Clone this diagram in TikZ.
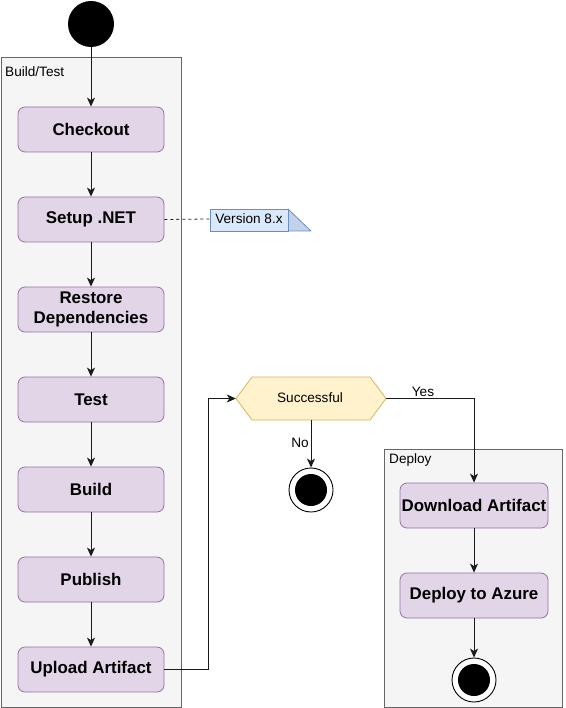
\documentclass[tikz,border=0pt]{standalone}
\usepackage{fontspec}
\setmainfont{Liberation Sans}
\usetikzlibrary{arrows.meta}
\definecolor{contfill}{HTML}{F5F5F5}
\definecolor{contline}{HTML}{666666}
\definecolor{boxfill}{HTML}{E1D5E7}
\definecolor{boxline}{HTML}{9673A6}
\definecolor{notefill}{HTML}{DAE8FC}
\definecolor{noteline}{HTML}{6C8EBF}
\definecolor{notefold}{HTML}{C2D2EA}
\definecolor{hexfill}{HTML}{FFF2CC}
\definecolor{hexline}{HTML}{D6B656}
\definecolor{edgecol}{HTML}{1A1A1A}
\begin{document}
\begin{tikzpicture}[x=1pt,y=-1pt,
  container/.style={draw=contline,fill=contfill,line width=0.8pt},
  clabel/.style={anchor=west,inner sep=0pt,font=\fontsize{13.6}{16}\selectfont},
  stepbox/.style={draw=boxline,fill=boxfill,rounded corners=7pt,line width=0.8pt,
    minimum width=146pt,minimum height=45pt,inner sep=1pt,align=center,
    font=\bfseries\fontsize{16.9}{20}\selectfont},
  arr/.style={draw=edgecol,line width=0.9pt,-{Stealth[length=9pt,width=8pt,inset=2.5pt]}},
  lbl/.style={inner sep=0pt,font=\fontsize{13.6}{16}\selectfont},
  endouter/.style={circle,draw=black,fill=white,line width=0.9pt,minimum size=44pt,inner sep=0pt},
]
\useasboundingbox (0,0) rectangle (565,708);
% containers
\draw[container] (1,57) rectangle (181,707);
\node[clabel] (lbuild) at (5,72) {Build/Test};
\draw[container] (384,449) rectangle (562,707);
\node[clabel] (ldeploy) at (389,460) {Deploy};
% start
\node[circle,fill=black,minimum size=46pt,inner sep=0pt] (start) at (91,24) {};
% build steps
\node[stepbox] (checkout) at (91,129.5) {Checkout};
\node[stepbox] (setup) at (91,219.5) {Setup .NET};
\node[stepbox] (restore) at (91,309.5) {Restore\\Dependencies};
\node[stepbox] (test) at (91,399.5) {Test};
\node[stepbox] (build) at (91,489.5) {Build};
\node[stepbox] (publish) at (91,579.5) {Publish};
\node[stepbox] (upload) at (91,669.5) {Upload Artifact};
% deploy steps
\node[stepbox,minimum width=148pt] (download) at (474,505.5) {Download Artifact};
\node[stepbox,minimum width=148pt] (azure) at (474,595.5) {Deploy to Azure};
% note
\fill[notefold] (288,209) -- (311,231) -- (288,231) -- cycle;
\draw[noteline,line width=0.8pt,fill=notefill] (210,209) -- (288,209) -- (288,231) -- (210,231) -- cycle;
\draw[noteline,line width=0.8pt,line join=round] (288,209) -- (311,231) -- (288,231);
\node[lbl,minimum width=78pt,minimum height=22pt] (note) at (249,219) {Version 8.x};
% decision
\node[minimum width=150pt,minimum height=43pt,inner sep=0pt] (hex) at (311,398.5) {};
\draw[draw=hexline,fill=hexfill,line width=0.8pt]
  (236,398.5) -- (252,377) -- (370,377) -- (386,398.5) -- (370,420) -- (252,420) -- cycle;
\node[lbl] (hextext) at (310,398) {Successful};
% end nodes
\node[endouter] (end1) at (311,490) {};
\fill[black] (end1.center) circle (16pt);
\node[endouter] (end2) at (474,680) {};
\fill[black] (end2.center) circle (16pt);
% edges
\draw[arr] (start) -- (checkout);
\draw[arr] (checkout) -- (setup);
\draw[arr] (setup) -- (restore);
\draw[arr] (restore) -- (test);
\draw[arr] (test) -- (build);
\draw[arr] (build) -- (publish);
\draw[arr] (publish) -- (upload);
\draw[arr] (upload.east) -- ++(44,0) |- (hex.west);
\draw[arr] (hex.east) -| (download.north);
\draw[arr] (hex.south) -- (end1.north);
\draw[arr] (download) -- (azure);
\draw[arr] (azure) -- (end2.north);
\draw[edgecol,line width=0.8pt,dash pattern=on 3pt off 3pt] (setup.east) -- (note.west);
% edge labels
\node[lbl] (yes) at (423,391.5) {Yes};
\node[lbl] (no) at (300,443) {No};
\end{tikzpicture}
\end{document}
